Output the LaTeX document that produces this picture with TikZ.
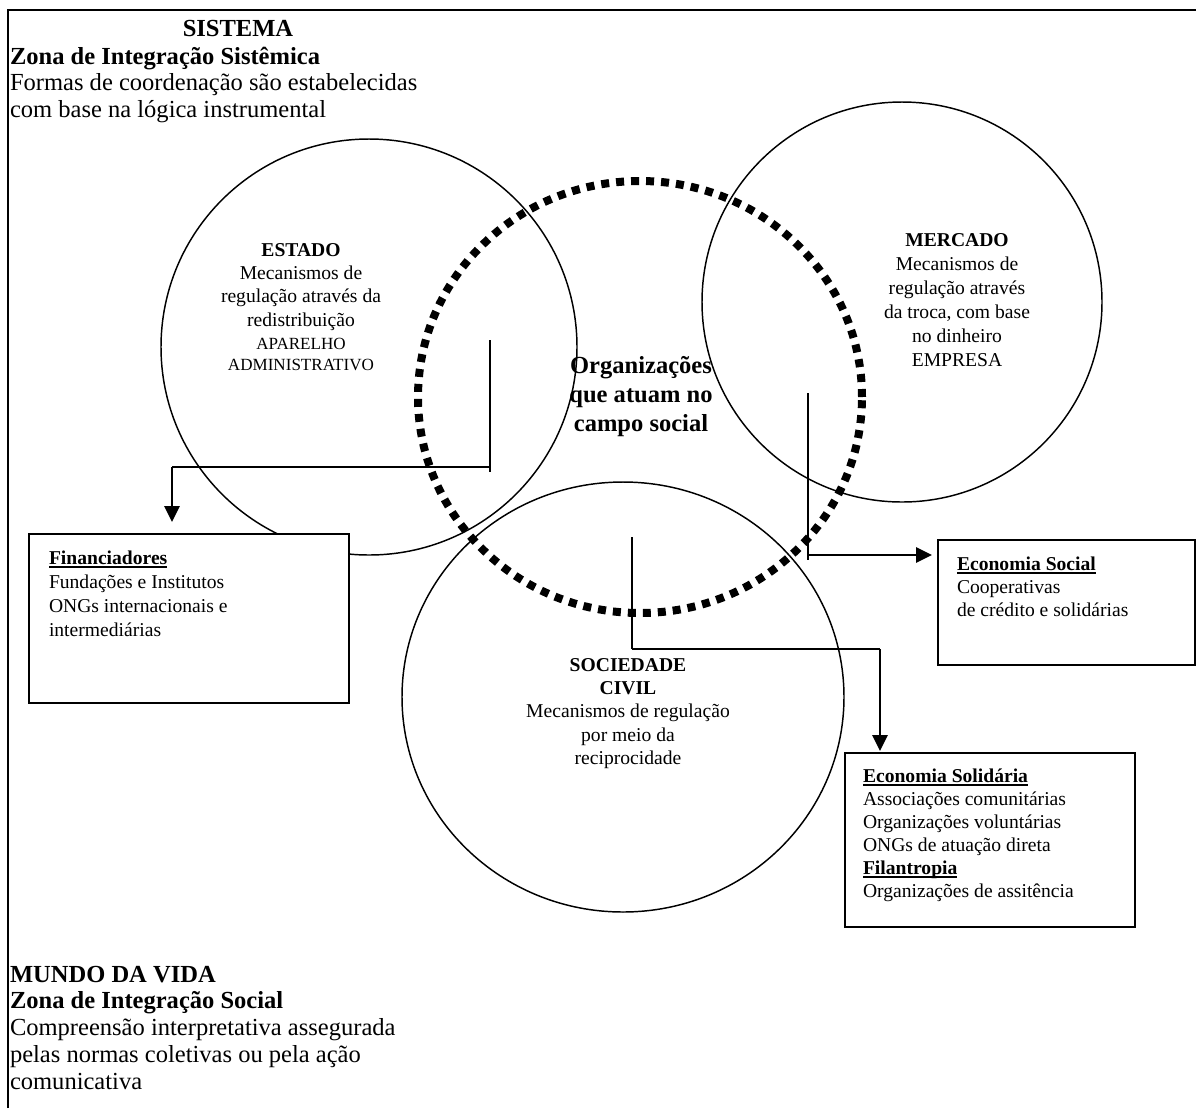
\documentclass[tikz,border=0pt]{standalone}
\usepackage{fontspec}
\setmainfont{Liberation Serif}
\usetikzlibrary{arrows.meta,shapes.geometric}
\newcommand{\TxtL}[1]{\begin{tabular}[t]{@{}l@{}}#1\end{tabular}}
\newcommand{\TxtC}[1]{\begin{tabular}[t]{@{}c@{}}#1\end{tabular}}
\newcommand{\myUL}[1]{\leavevmode\setbox0\hbox{#1}\rlap{\rule[-3.1pt]{\wd0}{1.7pt}}\box0}
\newcommand{\myBig}{\fontsize{18.4pt}{20.1pt}\selectfont}
\newcommand{\myMid}{\fontsize{14.7pt}{17.6pt}\selectfont}
\newcommand{\mySmall}{\fontsize{12.8pt}{15.75pt}\selectfont}
\newcommand{\myOrg}{\fontsize{18.4pt}{22.1pt}\selectfont}
\tikzset{
  txt/.style={inner sep=0pt, outer sep=0pt},
  ring/.style={circle, draw, line width=1.1pt, inner sep=0pt},
  oval/.style={ellipse, draw, line width=1.1pt, inner sep=0pt},
  dotring/.style={ellipse, draw, line width=6pt, inner sep=0pt, dash pattern=on 6pt off 5.25pt},
  box/.style={rectangle, draw, fill=white, line width=1.4pt, inner sep=0pt},
  conn/.style={line width=1.2pt},
  connh/.style={line width=1.5pt},
  arr/.style={line width=2.2pt, -{Triangle[length=12pt,width=11.25pt]}},
  frame/.style={line width=1.5pt}
}
\begin{document}
\begin{tikzpicture}[x=0.75pt,y=-0.75pt]
\useasboundingbox (0,0) rectangle (1196,1108);
% outer frame
\draw[frame] (8,1108) -- (8,10) -- (1196,10);
% circles
\node[ring, minimum size=312pt] (estado) at (369,347) {};
\node[ring, minimum size=300pt] (mercado) at (902,302) {};
\node[oval, minimum width=331.5pt, minimum height=322.5pt] (sociedade) at (623,697) {};
\node[dotring, minimum width=333pt, minimum height=324pt] (campo) at (640,397) {};
% boxes
\node[box, minimum width=240pt, minimum height=126.75pt] (fin) at (189,618.5) {};
\node[box, minimum width=192.75pt, minimum height=93.75pt] (esoc) at (1066.5,602.5) {};
\node[box, minimum width=217.5pt, minimum height=130.5pt] (esol) at (990,840) {};
% connectors
\coordinate (es) at (490,340);
\coordinate (ek) at (490,467);
\coordinate (ee) at (490,472);
\coordinate (ea) at (172,467);
\draw[conn] (es) -- (ee);
\draw[connh] (ek) -- (ea);
\draw[arr, shorten >=8.25pt] (ea) -- (ea |- fin.north);
\coordinate (ms) at (808,393);
\coordinate (mk) at (808,555);
\coordinate (me) at (808,560);
\draw[conn] (ms) -- (me);
\draw[arr, shorten >=3.75pt] (mk) -- (mk -| esoc.west);
\coordinate (ss) at (632,537);
\coordinate (sk) at (632,649);
\coordinate (sa) at (880,649);
\draw[conn] (ss) -- (sk);
\draw[connh] (sk) -- (sa);
\draw[arr, shorten >=0.75pt] (sa) -- (sa |- esol.north);
% texts
\node[txt, font=\myBig, anchor=base] (sis) at (238,36) {\textbf{SISTEMA}};
\node[txt, font=\myBig, anchor=base west] (sisz) at (10,64) {\TxtL{\textbf{Zona de Integração Sistêmica}\\Formas de coordenação são estabelecidas\\com base na lógica instrumental}};
\node[txt, font=\fontsize{18.4pt}{20.06pt}\selectfont, anchor=base west] (mundo) at (10,982) {\TxtL{\textbf{MUNDO DA VIDA}\\\textbf{Zona de Integração Social}\\Compreensão interpretativa assegurada\\pelas normas coletivas ou pela ação\\comunicativa}};
\node[txt, font=\fontsize{14.7pt}{17.5pt}\selectfont, anchor=base] (estt) at (301,256) {\TxtC{\textbf{ESTADO}\\Mecanismos de\\regulação através da\\redistribuição}};
\node[txt, font=\mySmall, anchor=base] (esta) at (301,349) {\TxtC{APARELHO\\ADMINISTRATIVO}};
\node[txt, font=\fontsize{14.7pt}{18pt}\selectfont, anchor=base] (mert) at (957,246) {\TxtC{\textbf{MERCADO}\\Mecanismos de\\regulação através\\da troca, com base\\no dinheiro\\EMPRESA}};
\node[txt, font=\myOrg, anchor=base] (camt) at (641,373) {\TxtC{\textbf{Organizações}\\\textbf{que atuam no}\\\textbf{campo social}}};
\node[txt, font=\myMid, anchor=base] (soct) at (628,671) {\TxtC{\textbf{SOCIEDADE}\\\textbf{CIVIL}\\Mecanismos de regulação\\por meio da\\reciprocidade}};
\node[txt, font=\fontsize{14.7pt}{18pt}\selectfont, anchor=base west] (fint) at (49,564) {\TxtL{\myUL{\textbf{Financiadores}}\\Fundações e Institutos\\ONGs internacionais e\\intermediárias}};
\node[txt, font=\myMid, anchor=base west] (esoct) at (957,570) {\TxtL{\myUL{\textbf{Economia Social}}\\Cooperativas\\de crédito e solidárias}};
\node[txt, font=\fontsize{14.7pt}{17.25pt}\selectfont, anchor=base west] (esolt) at (863,782) {\TxtL{\myUL{\textbf{Economia Solidária}}\\Associações comunitárias\\Organizações voluntárias\\ONGs de atuação direta\\\myUL{\textbf{Filantropia}}\\Organizações de assitência}};
\end{tikzpicture}
\end{document}
